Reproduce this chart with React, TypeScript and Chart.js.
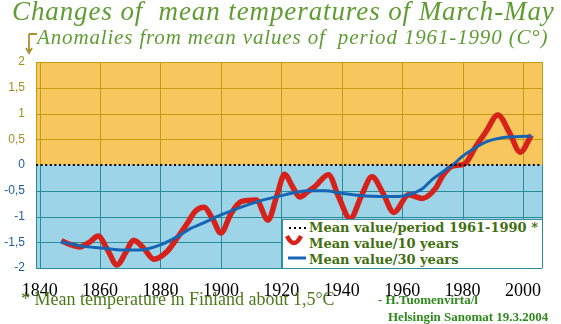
import React, { useEffect, useRef } from "react";
import { Chart, registerables } from "chart.js";

Chart.register(...registerables);

// 10-year running mean (red)
const years10 = [
  1847.2, 1850, 1853.3, 1856.5, 1859.4, 1862.5, 1865.6, 1868.5, 1871.1, 1874.5,
  1877.8, 1882.2, 1885.5, 1888.9, 1891.5, 1894.4, 1897.3, 1900, 1903.3, 1906.7,
  1911.7, 1915.6, 1918.5, 1921.1, 1923.7, 1926.1, 1928.7, 1931.1, 1935.6, 1939,
  1942.8, 1946.5, 1950, 1953.7, 1957.2, 1962.2, 1966.7, 1971.1, 1973.5, 1976.7,
  1980.6, 1984.4, 1987.8, 1991.7, 1995.6, 1999.1, 2002.8,
];
const mean10 = [
  -1.47, -1.54, -1.59, -1.5, -1.38, -1.65, -1.94, -1.7, -1.46, -1.62,
  -1.83, -1.68, -1.42, -1.13, -0.9, -0.82, -1.05, -1.32, -0.95, -0.71,
  -0.68, -1.07, -0.6, -0.18, -0.42, -0.62, -0.52, -0.42, -0.19, -0.62,
  -1.04, -0.6, -0.23, -0.55, -0.92, -0.58, -0.65, -0.45, -0.2, -0.02,
  0.02, 0.36, 0.65, 0.97, 0.62, 0.25, 0.58,
];

// 30-year running mean (blue)
const years30 = [
  1847, 1854.4, 1860, 1867.8, 1873, 1880, 1885.6, 1890, 1893.3, 1900,
  1912.2, 1921.1, 1928.9, 1934.4, 1940, 1947.8, 1958.9, 1962, 1966.7, 1970,
  1973.3, 1976.7, 1980, 1983.3, 1987.8, 1992.2, 1997.8, 2002.8,
];
const mean30 = [
  -1.49, -1.58, -1.61, -1.65, -1.65, -1.55, -1.39, -1.23, -1.15, -0.97,
  -0.71, -0.58, -0.5, -0.5, -0.55, -0.6, -0.61, -0.58, -0.46, -0.28,
  -0.14, 0.0, 0.17, 0.3, 0.45, 0.52, 0.55, 0.56,
];

// 1961-1990 reference level
const refYears = [1838.8, 2006.3];
const refValues = [0, 0];

const labelRef = "Mean value/period 1961-1990 *";
const label10 = "Mean value/10 years";
const label30 = "Mean value/30 years";

const ORANGE = "#f7c65c";
const BLUE = "#9dd4e7";
const GRID_POS = "#c39c12";
const GRID_NEG = "#2a8b98";
const GREEN = "#3f6f10";

const bgGridPlugin = {
  id: "bgGrid",
  beforeDatasetsDraw(chart: any) {
    const { ctx, chartArea, scales } = chart;
    const { left, right, top, bottom } = chartArea;
    const x = scales.x;
    const y = scales.y;
    const zero = Math.round(y.getPixelForValue(0));
    ctx.save();
    ctx.fillStyle = ORANGE;
    ctx.fillRect(left, top, right - left, zero - top);
    ctx.fillStyle = BLUE;
    ctx.fillRect(left, zero, right - left, bottom - zero);
    ctx.lineWidth = 1;
    // horizontal grid
    y.ticks.forEach((t: any) => {
      if (t.value === 0) return;
      const py = Math.round(y.getPixelForValue(t.value)) + 0.5;
      ctx.strokeStyle = t.value > 0 ? GRID_POS : GRID_NEG;
      ctx.beginPath();
      ctx.moveTo(left, py);
      ctx.lineTo(right, py);
      ctx.stroke();
    });
    // vertical grid (plus plot edges)
    const xs = x.ticks.map((t: any) => x.getPixelForValue(t.value));
    xs.push(left, right);
    xs.forEach((px: number) => {
      const p = Math.round(px) + 0.5;
      ctx.strokeStyle = GRID_POS;
      ctx.beginPath();
      ctx.moveTo(p, top);
      ctx.lineTo(p, zero);
      ctx.stroke();
      ctx.strokeStyle = GRID_NEG;
      ctx.beginPath();
      ctx.moveTo(p, zero);
      ctx.lineTo(p, bottom);
      ctx.stroke();
    });
    ctx.restore();
  },
};

const toPoints = (xs: number[], ys: number[]) => xs.map((x, i) => ({ x, y: ys[i] }));

export default function App() {
  const canvasRef = useRef<HTMLCanvasElement | null>(null);

  useEffect(() => {
    if (!canvasRef.current) return;
    const chart = new Chart(canvasRef.current, {
      type: "line",
      data: {
        datasets: [
          {
            label: labelRef,
            data: toPoints(refYears, refValues),
            borderColor: "#000",
            borderWidth: 2,
            borderDash: [2, 2.6],
            pointRadius: 0,
            order: 0,
          },
          {
            label: label30,
            data: toPoints(years30, mean30),
            borderColor: "#1664b4",
            borderWidth: 3,
            cubicInterpolationMode: "monotone",
            pointRadius: 0,
            order: 1,
          },
          {
            label: label10,
            data: toPoints(years10, mean10),
            borderColor: "#d6221a",
            borderWidth: 5.5,
            cubicInterpolationMode: "monotone",
            pointRadius: 0,
            order: 2,
          },
        ],
      } as any,
      options: {
        animation: false,
        responsive: false,
        devicePixelRatio: 1,
        layout: { padding: { top: 62, right: 19, left: 0, bottom: 0 } },
        plugins: { legend: { display: false }, tooltip: { enabled: false } },
        scales: {
          x: {
            type: "linear",
            min: 1838.8,
            max: 2006.3,
            grid: { display: false },
            border: { display: false },
            afterFit: (s: any) => {
              s.height = 56;
            },
            ticks: {
              stepSize: 20,
              includeBounds: false,
              padding: 4,
              color: "#000",
              font: { family: "'Liberation Serif', 'Times New Roman', serif", size: 18 },
              callback: (v: any) => String(v),
            },
          },
          y: {
            min: -2,
            max: 2,
            grid: { display: false },
            border: { display: false },
            afterFit: (s: any) => {
              s.width = 36;
            },
            ticks: {
              stepSize: 0.5,
              padding: 3,
              color: (c: any) => (c.tick && c.tick.value > 0 ? "#a48e1e" : "#1d5c9c"),
              font: { family: "'Liberation Sans', Arial, sans-serif", size: 12 },
              callback: (v: any) => String(v).replace(".", ","),
            },
          },
        },
      } as any,
      plugins: [bgGridPlugin],
    });
    return () => chart.destroy();
  }, []);

  const abs = (o: any): React.CSSProperties => ({ position: "absolute", whiteSpace: "pre", margin: 0, ...o });

  return (
    <div style={{ position: "absolute", left: 0, top: 0, width: 561, height: 324, background: "#fff", overflow: "hidden" }}>
      <canvas ref={canvasRef} width={561} height={324} style={{ position: "absolute", left: 0, top: 0, width: 561, height: 324 }} />
      <div
        style={abs({
          left: 12,
          top: -4,
          fontFamily: "'Liberation Serif', serif",
          fontStyle: "italic",
          fontSize: 27,
          letterSpacing: "0.9px",
          color: "#5f9c32",
          lineHeight: "30px",
        })}
      >
        {"Changes of  mean temperatures of March-May"}
      </div>
      <div
        style={abs({
          left: 37,
          top: 25,
          fontFamily: "'Liberation Serif', serif",
          fontStyle: "italic",
          fontSize: 21,
          letterSpacing: "0.85px",
          color: "#5f9c32",
          lineHeight: "24px",
        })}
      >
        {"Anomalies from mean values of  period 1961-1990 (C\u00b0)"}
      </div>
      <svg width={14} height={26} style={{ position: "absolute", left: 24, top: 31 }}>
        <path d="M5 3 L13 3 M5 3 L5 22 M2 17 L5 22 L8 17" stroke="#a89030" strokeWidth={1.8} fill="none" />
      </svg>
      {/* legend */}
      <div
        style={{
          position: "absolute",
          left: 282,
          top: 219,
          width: 260,
          height: 49,
          background: "#fff",
          borderLeft: "1px solid #3a8fa0",
          borderTop: "1px solid #3a8fa0",
          boxSizing: "border-box",
        }}
      />
      <svg width={26} height={48} style={{ position: "absolute", left: 284, top: 220 }}>
        <line x1={5} y1={8} x2={24} y2={8} stroke="#000" strokeWidth={2} strokeDasharray="2 3" />
        <path d="M3 16 Q 10 30 17 16" stroke="#d6221a" strokeWidth={4.5} fill="none" />
        <line x1={4} y1={38} x2={22} y2={38} stroke="#1664b4" strokeWidth={3} />
      </svg>
      {[labelRef, label10, label30].map((t, i) => (
        <div
          key={t}
          style={abs({
            left: 309,
            top: 220 + i * 16,
            fontFamily: "'DejaVu Serif', serif",
            fontWeight: "bold",
            fontSize: 13,
            lineHeight: "15px",
            color: GREEN,
          })}
        >
          {t}
        </div>
      ))}
      <div
        style={abs({
          left: 21,
          top: 289,
          fontFamily: "'Liberation Serif', serif",
          fontSize: 18,
          lineHeight: "20px",
          color: "#4a7a18",
        })}
      >
        {"* Mean temperature in Finland about 1,5\u00b0C"}
      </div>
      <div
        style={abs({
          left: 378,
          top: 292,
          fontFamily: "'Liberation Serif', serif",
          fontWeight: "bold",
          fontSize: 13,
          lineHeight: "15px",
          color: "#2f8a1c",
        })}
      >
        {"- H.Tuomenvirta/l"}
      </div>
      <div
        style={abs({
          left: 388,
          top: 309,
          fontFamily: "'Liberation Serif', serif",
          fontWeight: "bold",
          fontSize: 13,
          lineHeight: "15px",
          color: "#2f8a1c",
        })}
      >
        {"Helsingin Sanomat 19.3.2004"}
      </div>
    </div>
  );
}
